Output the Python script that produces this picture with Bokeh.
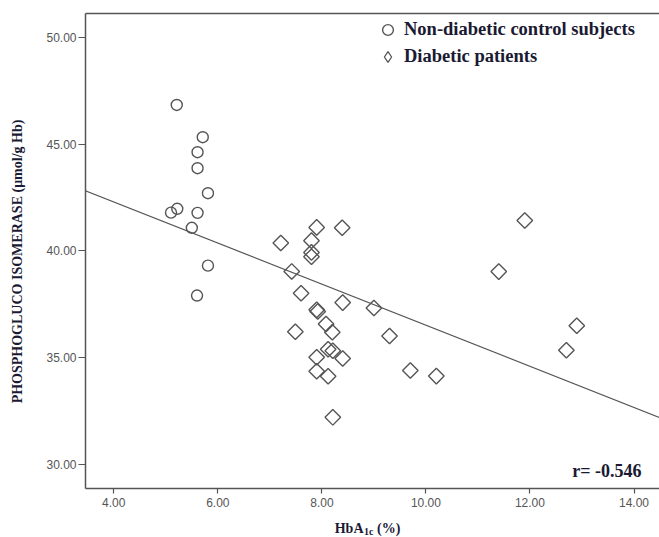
import math
from bokeh.plotting import figure
from bokeh.layouts import column
from bokeh.models import (FixedTicker, NumeralTickFormatter, Slope, Label, Legend,
                          LegendItem, Range1d, LinearAxis)
from bokeh.embed import file_html
from bokeh.resources import INLINE

# ---- data ----
ctrl_hba1c = [5.21, 5.71, 5.61, 5.61, 5.81, 5.10, 5.22, 5.61, 5.50, 5.81, 5.60]
ctrl_pgi = [46.83, 45.32, 44.62, 43.87, 42.70, 41.79, 41.97, 41.78, 41.08, 39.31, 37.91]

diab_hba1c = [7.21, 7.42, 7.49, 7.60, 7.80, 7.80, 7.80, 7.90, 7.90, 7.92, 7.90, 7.90,
              8.08, 8.20, 8.12, 8.21, 8.12, 8.21, 8.39, 8.40, 8.40, 9.00, 9.30, 9.70,
              10.20, 11.40, 11.90, 12.70, 12.90]
diab_pgi = [40.37, 39.04, 36.22, 38.02, 40.48, 39.93, 39.73, 41.10, 37.24, 37.16, 35.02, 34.37,
            36.58, 36.19, 35.40, 35.33, 34.13, 32.21, 41.08, 37.58, 34.96, 37.33, 36.02, 34.40,
            34.14, 39.03, 41.42, 35.35, 36.50]

x_ticks = [4, 6, 8, 10, 12, 14]
y_ticks = [30, 35, 40, 45, 50]
fit_slope = -0.962
fit_intercept = 46.14
r_text = "r= -0.546"
legend_labels = ["Non-diabetic control subjects", "Diabetic patients"]
y_title = "PHOSPHOGLUCO ISOMERASE (\u03bcmol/g Hb)"
x_title_parts = ["HbA", "1c", "(%)"]

GRAY = "#555555"
TXT = "#1a1a33"
SERIF = "Liberation Serif"

p = figure(width=659, height=513, output_backend="svg", toolbar_location=None,
           x_range=Range1d(3.456, 14.49), y_range=Range1d(28.88, 51.11),
           min_border_left=85, min_border_right=0, min_border_top=13, min_border_bottom=25)
p.background_fill_color = "white"
p.border_fill_color = "white"
p.xgrid.visible = False
p.ygrid.visible = False
p.outline_line_color = None

p.xaxis.ticker = FixedTicker(ticks=x_ticks)
p.yaxis.ticker = FixedTicker(ticks=y_ticks)
for ax in (p.xaxis[0], p.yaxis[0]):
    ax.formatter = NumeralTickFormatter(format="0.00")
    ax.axis_line_color = GRAY
    ax.axis_line_width = 1.5
    ax.major_tick_line_color = GRAY
    ax.major_tick_line_width = 1.2
    ax.minor_tick_line_color = None
    ax.major_tick_in = 0
    ax.major_label_text_font = "Liberation Sans"
    ax.major_label_text_font_size = "12px"
    ax.major_label_text_color = GRAY
p.xaxis.major_tick_out = 5
p.xaxis.major_label_standoff = 4
p.yaxis.major_tick_out = 7
p.yaxis.major_label_standoff = 2

# y title (trailing no-break spaces shift the centred title slightly downward)
p.yaxis.axis_label = y_title + "\u00a0" * 6
p.yaxis.axis_label_text_font = SERIF
p.yaxis.axis_label_text_font_style = "bold"
p.yaxis.axis_label_text_font_size = "14px"
p.yaxis.axis_label_text_color = TXT
p.yaxis.axis_label_standoff = 18

# top frame line only (no right border in the reference)
top_axis = LinearAxis(ticker=FixedTicker(ticks=[]), axis_line_color=GRAY,
                      axis_line_width=1.5, major_tick_line_color=None,
                      minor_tick_line_color=None, major_label_text_color=None,
                      major_label_text_font_size="1px", major_label_standoff=0)
p.add_layout(top_axis, "above")

r1 = p.scatter(ctrl_hba1c, ctrl_pgi, marker="circle", size=11, fill_color=None,
               line_color=GRAY, line_width=1.4)
r2 = p.scatter(diab_hba1c, diab_pgi, marker="square", angle=math.pi / 4, size=11,
               fill_color=None, line_color=GRAY, line_width=1.4)
# legend-only glyph (diamond outline); its single point is NaN so nothing is plotted
r2_leg = p.scatter(x=[float("nan")], y=[float("nan")], marker="diamond", size=11,
                   fill_color=None, line_color=GRAY, line_width=1.3)

p.add_layout(Slope(gradient=fit_slope, y_intercept=fit_intercept,
                   line_color=GRAY, line_width=1.2))

legend = Legend(items=[LegendItem(label=legend_labels[0], renderers=[r1]),
                       LegendItem(label=legend_labels[1], renderers=[r2_leg])],
                location=(289, 418), orientation="vertical", padding=0, spacing=-4,
                margin=0, glyph_width=27, glyph_height=27, label_height=23,
                label_standoff=3, label_text_font=SERIF, label_text_font_style="bold",
                label_text_font_size="18.5px", label_text_color=TXT,
                border_line_color=None, background_fill_alpha=0)
p.add_layout(legend)

p.add_layout(Label(x=12.815, y=29.72, text=r_text, text_font=SERIF,
                   text_font_style="bold", text_font_size="18px", text_color=TXT,
                   text_baseline="alphabetic", text_align="left"))

# strip below the chart holding the x title HbA1c (%) with its subscript
p2 = figure(width=659, height=24, output_backend="svg", toolbar_location=None,
            x_range=p.x_range, y_range=Range1d(0, 1),
            x_axis_location=None, y_axis_location=None,
            min_border_left=85, min_border_right=0, min_border_top=0, min_border_bottom=0)
p2.outline_line_color = None
p2.xgrid.visible = False
p2.ygrid.visible = False
p2.background_fill_color = "white"
p2.border_fill_color = "white"
p2.add_layout(Label(x=8.80, y=0.385, text=x_title_parts[0], text_font=SERIF,
                    text_font_style="bold", text_font_size="14px", text_color=TXT,
                    text_align="right", text_baseline="alphabetic"))
p2.add_layout(Label(x=8.81, y=0.235, text=x_title_parts[1], text_font=SERIF,
                    text_font_style="bold", text_font_size="10px", text_color=TXT,
                    text_align="left", text_baseline="alphabetic"))
p2.add_layout(Label(x=9.06, y=0.385, text=x_title_parts[2], text_font=SERIF,
                    text_font_style="bold", text_font_size="14px", text_color=TXT,
                    text_align="left", text_baseline="alphabetic"))

layout = column(p, p2, spacing=0)
open("out.html", "w").write(file_html(layout, INLINE))
